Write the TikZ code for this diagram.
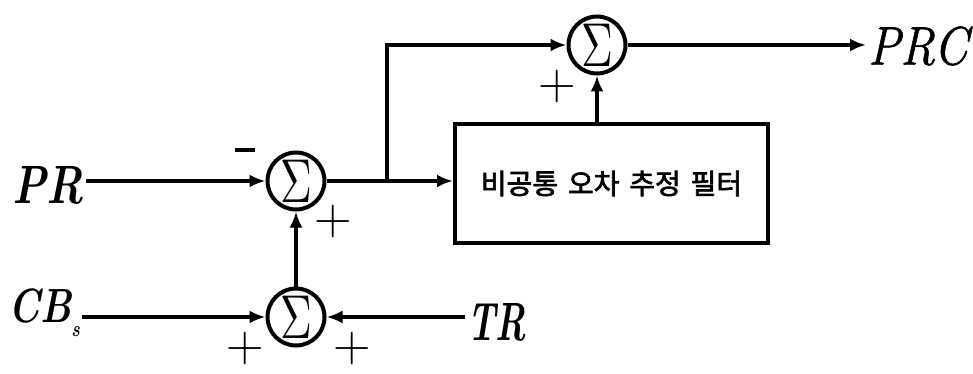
\documentclass[tikz,border=0pt]{standalone}
\usepackage{fontspec}
\newfontfamily\kr{Noto Sans CJK KR}[FakeBold=2.5]
\newfontfamily\prcfont{Latin Modern Roman}[FakeBold=1.2]
\usetikzlibrary{arrows.meta,calc}
\newcommand{\sigmasym}{\scalebox{4.4}[6.2]{$\Sigma$}}
\begin{document}
\begin{tikzpicture}[x=1pt,y=-1pt,
  line width=4pt,
  sumnode/.style={draw,circle,minimum size=57pt,inner sep=0pt},
  conn/.style={-{Latex[length=16pt,width=13pt]}},
  lbl/.style={inner sep=0pt,font=\fontsize{54}{54}\selectfont\bfseries\itshape},
  sgn/.style={inner sep=0pt,font=\fontsize{52}{52}\selectfont}]
\useasboundingbox (0,0) rectangle (973,374);
% summing junctions
\node[sumnode] (s1) at (296,181) {\sigmasym};
\node[sumnode] (s2) at (296,317) {\sigmasym};
\node[sumnode] (s3) at (597,45) {\sigmasym};
% filter box
\node[draw,minimum width=313pt,minimum height=119pt,inner sep=0pt,
  font=\kr\fontsize{28}{28}\selectfont] (box) at (611.5,183.5) {비공통\hspace{0.35em}오차\hspace{0.35em}추정\hspace{0.35em}필터};
% labels
\node[lbl,anchor=east] (pr) at (86,185) {\scalebox{0.8}[1]{PR}};
\node[lbl,anchor=east,font=\fontsize{48}{48}\selectfont\bfseries\itshape] (cb) at (82,313)
  {\scalebox{0.8}[1]{CB\raisebox{-0.3em}{\fontsize{22}{22}\selectfont s}}};
\node[lbl,anchor=west] (tr) at (465,322) {\scalebox{0.66}[1]{TR}};
\node[inner sep=0pt,anchor=west,font=\prcfont\fontsize{54}{54}\selectfont\itshape] (prc) at (866,46) {\scalebox{0.9}[1]{PRC}};
% signs
\node[sgn] (m1) at (245,150) {\rule{20pt}{3.5pt}};
\node[sgn] (p1) at (333,222) {+};
\node[sgn] (p3) at (557,87) {+};
\node[sgn] (p2a) at (245,349) {+};
\node[sgn] (p2b) at (352,349) {+};
% branch point
\coordinate (br) at (387,0 |- s1.east);
% connectors
\draw[conn] (pr.east |- s1.west) -- (s1.west);
\draw[conn] (s1.east) -- (box.west |- s1.east);
\draw[conn] (br) -- (br |- s3.west) -- (s3.west);
\draw[conn] (box.north -| s3.south) -- (s3.south);
\draw[conn] (s3.east) -- (prc.west |- s3.east);
\draw[conn] (s2.north) -- (s1.south);
\draw[conn] (cb.east |- s2.west) -- (s2.west);
\draw[conn] (tr.west |- s2.east) -- (s2.east);
\end{tikzpicture}
\end{document}
